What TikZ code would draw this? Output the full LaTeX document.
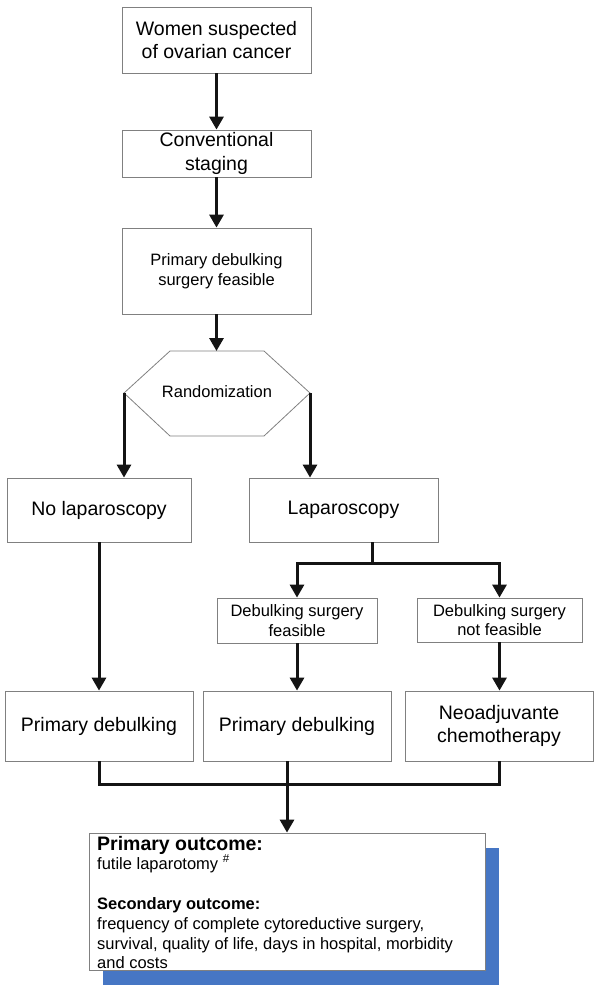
\documentclass[tikz,border=0pt]{standalone}
\usepackage{fontspec}
\setmainfont{Liberation Sans}
\usetikzlibrary{arrows.meta}
\definecolor{shadowblue}{RGB}{70,118,196}
\begin{document}
\begin{tikzpicture}[x=1pt,y=-1pt,
  box/.style={draw=black!50, line width=0.8pt, fill=white, inner sep=0pt, align=center},
  big/.style={font=\fontsize{19.5}{23.5}\selectfont},
  small/.style={font=\fontsize{16.5}{19.5}\selectfont},
  smallbold/.style={font=\bfseries\fontsize{16.5}{19.5}\selectfont},
  bigbold/.style={font=\bfseries\fontsize{19.5}{23.5}\selectfont},
  outtext/.style={anchor=base west, inner sep=0pt},
  hexline/.style={draw=black!50, line width=0.8pt},
  conn/.style={draw=black!92, line width=3pt},
  arr/.style={conn, -{Triangle[width=14pt,length=13pt]}},
]
\useasboundingbox (0,0) rectangle (600,995);

% boxes
\node[box, big, minimum width=189pt, minimum height=66pt] (b1) at (216.5,40) {Women suspected\\of ovarian cancer};
\node[box, big, minimum width=189pt, minimum height=47pt] (b2) at (216.5,153.5) {Conventional\\staging};
\node[box, small, minimum width=189pt, minimum height=86pt] (b3) at (216.5,271) {Primary debulking\\surgery feasible};

% hexagon
\coordinate (hexTL) at (170,351);
\coordinate (hexTR) at (264,351);
\coordinate (hexR) at (310,393);
\coordinate (hexBR) at (264,436);
\coordinate (hexBL) at (170,436);
\coordinate (hexL) at (124,393);
\coordinate (hexTop) at (216.5,351);
\draw[hexline] (hexTL) -- (hexTR) -- (hexR) -- (hexBR) -- (hexBL) -- (hexL) -- cycle;
\node[small] (rand) at (217,392) {Randomization};

\node[box, big, minimum width=184pt, minimum height=64pt] (nolap) at (99,510) {No laparoscopy};
\node[box, big, minimum width=189pt, minimum height=64pt] (lap) at (343.5,510) {Laparoscopy};

\node[box, small, minimum width=160pt, minimum height=45pt] (dsf) at (297,620.5) {Debulking surgery\\feasible};
\node[box, small, minimum width=165pt, minimum height=44pt] (dsnf) at (499.5,620) {Debulking surgery\\not feasible};

\node[box, big, minimum width=188pt, minimum height=70pt] (pd1) at (99,726) {Primary debulking};
\node[box, big, minimum width=188pt, minimum height=70pt] (pd2) at (297,726) {Primary debulking};
\node[box, big, minimum width=188pt, minimum height=70pt] (neo) at (499,726) {Neoadjuvante\\chemotherapy};

% outcome box with shadow
\node[fill=shadowblue, inner sep=0pt, minimum width=396pt, minimum height=137pt] (shadow) at (301,916.5) {};
\node[box, minimum width=396pt, minimum height=137pt] (outcome) at (287,901.5) {};
\node[outtext, bigbold] (o1) at (97,850) {Primary outcome:};
\node[outtext, small] (o2) at (97,869) {futile laparotomy \textsuperscript{\#}};
\node[outtext, smallbold] (o3) at (97,909) {Secondary outcome:};
\node[outtext, small] (o4) at (97,929) {frequency of complete cytoreductive surgery,};
\node[outtext, small] (o5) at (97,949) {survival, quality of life, days in hospital, morbidity};
\node[outtext, small] (o6) at (97,968) {and costs};

% connectors
\draw[arr] (b1.south) -- (b2.north);
\draw[arr] (b2.south) -- (b3.north);
\draw[arr] (b3.south) -- (hexTop);
\draw[arr] (hexL) -- (hexL |- nolap.north);
\draw[arr] (hexR) -- (hexR |- lap.north);
\draw[arr] (nolap.south) -- (pd1.north);

\coordinate (split) at (372,563);
\draw[conn] (split |- lap.south) -- (split);
\draw[arr] (split) -| (dsf.north);
\draw[arr] (split) -| (dsnf.north);

\draw[arr] (dsf.south) -- (pd2.north);
\draw[arr] (dsnf.south) -- (dsnf.south |- neo.north);

\coordinate (join) at (99,784);
\draw[conn] (pd1.south) -- (join) -| (neo.south);
\draw[arr] (outcome.north |- pd2.south) -- (outcome.north);
\end{tikzpicture}
\end{document}
